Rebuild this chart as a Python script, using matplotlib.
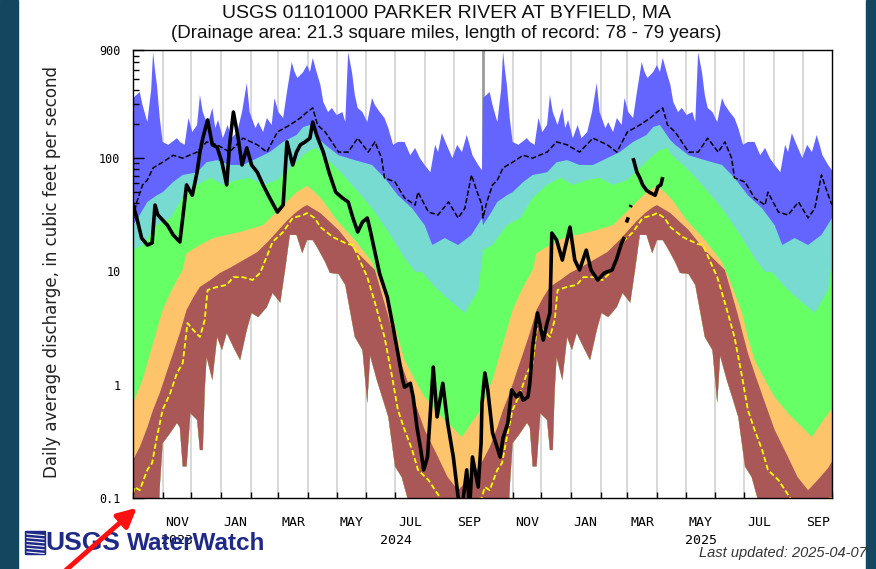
import numpy as np
import pandas as pd
import matplotlib
matplotlib.use("Agg")
import matplotlib.pyplot as plt
from matplotlib.patches import Rectangle, FancyArrowPatch
from matplotlib.lines import Line2D
from matplotlib.ticker import LogLocator, NullFormatter
import matplotlib.transforms as mtransforms

# ---------------- data ----------------
START = pd.Timestamp("2023-10-01")
END = pd.Timestamp("2025-10-01")

# daily statistics by day of water year (0 = Oct 1); repeated for both years
max_day = [0, 7, 10, 15, 19, 21, 23, 25, 28, 31, 37, 46, 49, 54, 58, 62, 67, 70, 73, 78,
           83, 86, 89, 94, 99, 103, 109, 114, 119, 122, 128, 131, 136, 140, 145, 148, 152, 157, 161, 166,
           169, 172, 178, 182, 185, 188, 192, 196, 199, 204, 208, 213, 219, 222, 225, 229, 232, 235, 240, 245,
           250, 253, 258, 263, 267, 272, 277, 284, 290, 295, 300, 305, 311, 316, 319, 323, 328, 334, 339, 344,
           349, 352, 355, 361, 365]
max_cfs = [339, 383, 294, 208, 400, 863, 600, 442, 226, 139, 131, 150, 139, 131, 226, 170, 196, 360, 255, 196,
           277, 184, 217, 150, 196, 150, 170, 255, 460, 255, 184, 208, 170, 226, 196, 339, 255, 226, 383, 705,
           575, 510, 575, 663, 575, 766, 575, 442, 313, 255, 277, 240, 255, 208, 863, 575, 360, 277, 255, 208,
           339, 294, 255, 226, 184, 131, 139, 139, 106, 123, 100, 87, 75, 131, 113, 166, 131, 100, 131, 113,
           160, 131, 106, 87, 78]

p90_day = [0, 7, 15, 25, 31, 42, 52, 67, 77, 88, 101, 115, 130, 143, 157, 171, 178, 185, 196, 201,
           215, 232, 250, 263, 277, 292, 305, 313, 326, 340, 354, 365]
p90_cfs = [25.6, 31.5, 41, 47, 50, 61.5, 71, 75, 92, 96, 87, 87, 100, 113, 139, 160, 188, 196, 144, 131,
           106, 96, 87, 67, 47, 36, 25.6, 17.1, 19.7, 17.1, 21, 29.6]

p75_day = [0, 10, 25, 39, 52, 67, 81, 94, 109, 122, 136, 151, 164, 178, 185, 193, 196, 215, 232, 250,
           267, 284, 295, 302, 319, 334, 347, 361, 365]
p75_cfs = [15.5, 17.1, 25.6, 29.6, 44.5, 58, 67, 58, 64, 67, 58, 64, 82, 106, 118, 123, 110, 78.5, 54.5, 36,
           22.3, 13.1, 9.9, 9.9, 6.85, 5.3, 4.3, 6.85, 12.6]

p25_day = [0, 10, 18, 25, 31, 39, 46, 52, 56, 70, 84, 112, 136, 154, 171, 182, 188, 198, 213, 232,
           250, 258, 271, 277, 284, 295, 305, 319, 334, 344, 354, 365]
p25_cfs = [0.69, 1.1, 1.9, 3.04, 4.56, 6.45, 8.4, 10.3, 14.5, 17.1, 19.7, 22.3, 25.6, 36, 50, 57, 52, 42.7, 28.4, 18.9,
           12.1, 8.4, 4.3, 2.64, 1.65, 1.1, 0.78, 0.56, 0.42, 0.345, 0.46, 0.62]

p10_day = [0, 7, 15, 21, 28, 36, 42, 49, 56, 63, 70, 81, 91, 101, 130, 143, 161, 170, 178, 182, 196,
           215, 232, 253, 266, 277, 284, 295, 305, 319, 329, 340, 350, 361, 365]
p10_cfs = [0.216, 0.28, 0.42, 0.60, 0.845, 1.35, 1.9, 2.86, 4.56, 5.9, 7.3, 8.4, 9.7, 10.7, 14.8, 19, 28, 33, 37, 38.5, 32.7,
           23.2, 15.4, 10.3, 4.3, 1.9, 1.27, 0.69, 0.40, 0.23, 0.153, 0.117, 0.144, 0.184, 0.21]

min_day = [0, 26, 28, 31, 39, 46, 49, 52, 56, 60, 67, 70, 73, 75, 77, 83, 88, 93, 98, 105,
           112, 119, 124, 131, 140, 146, 154, 159, 164, 171, 177, 182, 188, 193, 201, 206, 215, 222, 232, 240,
           245, 248, 255, 267, 274, 281, 287, 300, 365]
min_cfs = [0.05, 0.05, 0.125, 0.305, 0.375, 0.46, 0.42, 0.19, 0.19, 0.56, 0.49, 0.265, 0.265, 0.90, 1.75, 1.1, 2.64, 2.02, 2.86, 2.15,
           1.65, 3.04, 4.3, 3.95, 4.85, 6.45, 5.3, 10.3, 21, 21, 14.5, 18.9, 18.9, 16.1, 12.1, 9.7, 9.5, 7.6, 2.64, 2.02,
           0.69, 1.8, 1.1, 0.52, 0.19, 0.153, 0.1, 0.05, 0.05]

mean_day = [0, 4, 10, 15, 21, 31, 42, 52, 67, 77, 88, 101, 115, 130, 140, 151, 164, 175, 182, 188,
            193, 201, 208, 215, 225, 235, 246, 253, 260, 263, 274, 284, 295, 298, 309, 319, 330, 340, 347, 354,
            360, 365]
mean_cfs = [29.6, 41, 58, 64, 82, 92, 106, 100, 113, 139, 131, 113, 150, 131, 113, 170, 196, 226, 255, 277,
            196, 170, 139, 113, 113, 150, 113, 139, 100, 67, 61.5, 44.5, 38.5, 50, 33.4, 31.5, 41, 29.6, 36, 71,
            50, 38.5]

yel_day = [0, 2, 7, 15, 20, 25, 31, 39, 46, 52, 57, 63, 70, 75, 78, 88, 98, 105, 115, 125,
           133, 146, 157, 167, 178, 182, 190, 196, 209, 224, 230, 237, 245, 253, 263, 271, 277, 284, 292, 298,
           309, 316, 325, 345, 365]
yel_cfs = [0.11, 0.125, 0.117, 0.177, 0.204, 0.345, 0.60, 0.845, 1.27, 1.55, 3.5, 3.04, 2.64, 3.72, 6.85, 7.3, 7.6, 8.9, 8.9, 8.4,
           9.7, 18.2, 22.3, 29.6, 31.5, 32.7, 29.6, 24.6, 20.1, 17.5, 17.1, 12.6, 8.9, 5.3, 2.64, 1.17, 0.60, 0.40, 0.265, 0.177,
           0.144, 0.117, 0.09, 0.09, 0.1]

# observed daily discharge, days since 2023-10-01
nan = np.nan
obs_day = [0, 4, 9, 15, 20, 23, 26, 36, 42, 49, 52, 56, 62, 67, 70, 73, 78, 83, 88, 93,
           98, 101, 105, 110, 114, 119, 124, 130, 136, 143, 151, 157, 161, 167, 171, 175, 180, 185, 188, 192,
           199, 205, 212, 219, 225, 230, 235, 240, 245, 248, 253, 258, 266, 272, 277, 282, 284, 290, 293, 297,
           301, 304, 308, 314, 318, 324, 329, 335, 340, 344, 349, 352, 355, 361, 364, 365, 368, 371, 376, 384,
           387, 392, 396, 401, 405, 408, 413, 415, 418, 423, 429, 433, 436, 438, 443, 449, 457, 462, 467, 474,
           479, 486, 493, 501, 506, 511, 514, 515, 516, 518, 519, 520, 521, 522, 523, 527, 530, 533, 537, 540,
           546, 549, 552, 554]
obs_cfs = [38.5, 29.6, 19.7, 17.1, 17.8, 38.5, 31.5, 25.6, 21, 18.2, 29.6, 58, 47, 75, 113, 150, 217, 131, 125, 92,
           58, 131, 255, 150, 87, 123, 87, 75, 58, 44.5, 33.4, 38.5, 139, 87, 113, 131, 139, 150, 208, 160,
           113, 75, 50, 44.5, 41, 29.6, 22.3, 27.3, 29.6, 23.2, 14.8, 9.5, 5.9, 3.23, 1.9, 1.1, 0.95, 1.03, 0.78, 0.42,
           0.265, 0.177, 0.23, 1.43, 0.52, 1.03, 0.46, 0.23, 0.102, 0.08, 0.177, 0.08, 0.23, 0.125, 0.305, 0.69, 1.27, 0.90, 0.375, 0.23,
           0.34, 0.46, 0.90, 0.78, 0.85, 0.73, 0.78, 1.03, 2.2, 4.3, 2.48, 3.5, 4.3, 21.8, 18.9, 12.6, 24.6, 12.6, 10.3, 15.4,
           10.3, 8.4, 9.7, 10.3, 13.1, 17.8, 20.1, nan, 27, 30, nan, 37, 38.5, nan, 100, 75, 67, 58, 52, 50,
           47, 56, 58, 68]

y_ticks = [0.1, 1, 10, 100, 900]
y_ticklabels = ["0.1", "1", "10", "100", "900"]
month_labels = ["NOV", "JAN", "MAR", "MAY", "JUL", "SEP", "NOV", "JAN", "MAR", "MAY", "JUL", "SEP"]
label_months = ["2023-11", "2024-01", "2024-03", "2024-05", "2024-07", "2024-09",
                "2024-11", "2025-01", "2025-03", "2025-05", "2025-07", "2025-09"]
years = ["2023", "2024", "2025"]

title1 = "USGS 01101000 PARKER RIVER AT BYFIELD, MA"
title2 = "(Drainage area: 21.3 square miles, length of record: 78 - 79 years)"
ylabel = "Daily average discharge, in cubic feet per second"

# ---------------- figure ----------------
W, H = 876, 569
fig = plt.figure(figsize=(W / 100, H / 100), dpi=100)
fig.patch.set_facecolor("white")
strip = "#15465f"
fig.add_artist(Rectangle((0, 0), 18 / W, 1, transform=fig.transFigure, color=strip, zorder=0))
fig.add_artist(Rectangle((866 / W, 0), 10 / W, 1, transform=fig.transFigure, color=strip, zorder=0))

ax = fig.add_axes([133 / W, 1 - 498 / H, (832 - 133) / W, (498 - 50) / H])
ax.set_facecolor("white")

ndays = (END - START).days
wy2 = (pd.Timestamp("2024-10-01") - START).days


def two_years(day, val):
    d = np.asarray(day, float)
    v = np.asarray(val, float)
    return np.r_[d, d + wy2], np.r_[v, v]


mnx, mny = two_years(min_day, min_cfs)
bands = [(max_day, max_cfs, "#6464ff"),
         (p90_day, p90_cfs, "#78dbd2"),
         (p75_day, p75_cfs, "#66ff66"),
         (p25_day, p25_cfs, "#fdc46c"),
         (p10_day, p10_cfs, "#aa5757")]
for i, (d, v, c) in enumerate(bands):
    x, y = two_years(d, v)
    ax.fill(np.r_[x, mnx[::-1]], np.r_[y, mny[::-1]], color=c, lw=0, zorder=1 + i)

# month grid lines
months = pd.date_range("2023-11-01", "2025-09-01", freq="MS")
for m in months:
    dd = (m - START).days
    if dd == wy2:
        ax.axvline(dd, color="#9c9c9c", lw=2.0, zorder=0.6)
    else:
        ax.axvline(dd, color="#d6d6d6", lw=1.3, zorder=0.5)

yx, yy = two_years(yel_day, yel_cfs)
ax.plot(yx, yy, color="#ffff00", lw=1.3, ls=(0, (3, 1.5)), zorder=7)
mx, my = two_years(mean_day, mean_cfs)
ax.plot(mx, my, color="black", lw=1.1, ls=(0, (3.5, 1.5)), zorder=8)
ax.plot(obs_day, obs_cfs, color="black", lw=2.6, zorder=9, solid_joinstyle="round", solid_capstyle="butt")

ax.set_yscale("log")
ax.set_ylim(0.1, 900)
ax.set_xlim(0, ndays)

ax.set_yticks(y_ticks)
ax.set_yticklabels(y_ticklabels, fontfamily="DejaVu Sans Mono", fontsize=8.5)
ax.yaxis.set_minor_locator(LogLocator(base=10, subs=np.arange(2, 10)))
ax.yaxis.set_minor_formatter(NullFormatter())
ax.tick_params(axis="y", which="major", direction="in", length=8, width=1, pad=9, colors="black")
ax.tick_params(axis="y", which="minor", direction="in", length=4.5, width=1)
ax.tick_params(right=False, top=False, which="both")

month_days = [(pd.Timestamp(m) - START).days for m in pd.date_range("2023-10-01", "2025-10-01", freq="MS")]
ax.set_xticks(month_days)
ax.set_xticklabels([])
mid_days = []
for s in label_months:
    t = pd.Timestamp(s + "-01")
    mid_days.append((t - START).days + t.days_in_month / 2)
ax.set_xticks(mid_days, minor=True)
ax.set_xticklabels(month_labels, minor=True, fontfamily="DejaVu Sans Mono", fontsize=9.5)
ax.tick_params(axis="x", which="major", direction="in", length=4, width=1)
ax.tick_params(axis="x", which="minor", length=0, pad=13)

for sp in ax.spines.values():
    sp.set_linewidth(1.0)
    sp.set_color("black")
    sp.set_zorder(12)

# year labels centred on displayed portion of each calendar year
trans = mtransforms.blended_transform_factory(ax.transData, fig.transFigure)
for yr in years:
    a = max(pd.Timestamp(yr + "-01-01"), START)
    b = min(pd.Timestamp(str(int(yr) + 1) + "-01-01"), END)
    c = ((a - START).days + (b - START).days) / 2
    fig.text(c, 1 - 541 / H, yr, transform=trans, ha="center", va="center",
             fontfamily="DejaVu Sans Mono", fontsize=9.5, zorder=3)

sans = ["Liberation Sans", "DejaVu Sans"]
fig.text(446 / W, 1 - 13 / H, title1, ha="center", va="center", fontsize=14, family=sans, color="#111111")
fig.text(446 / W, 1 - 33 / H, title2, ha="center", va="center", fontsize=13.5, family=sans, color="#111111")
fig.text(52 / W, 1 - 272 / H, ylabel, rotation=90, ha="center", va="center", fontsize=12,
         family="DejaVu Sans", color="#222222")
fig.text(867 / W, 1 - 553 / H, "Last updated: 2025-04-07", ha="right", va="center", fontsize=10.5,
         style="italic", family=sans, color="#333333", zorder=5)

# USGS WaterWatch logo
logo_c = "#1f2a87"
fig.add_artist(Rectangle((25 / W, 1 - 554 / H), 20 / W, 23 / H, transform=fig.transFigure,
                         color=logo_c, zorder=5))
for k in range(6):
    yy0 = 1 - (534 + k * 3.6) / H
    fig.add_artist(Line2D([27 / W, 44 / W], [yy0, yy0 - 1.5 / H], transform=fig.transFigure,
                          color="white", lw=0.8, zorder=6))
fig.text(45 / W, 1 - 543 / H, "USGS", ha="left", va="center", fontsize=19, fontweight="bold",
         family=sans, color=logo_c, zorder=7)
fig.text(127 / W, 1 - 543 / H, "WaterWatch", ha="left", va="center", fontsize=17.5, fontweight="bold",
         family=sans, color=logo_c, zorder=7)

# red arrow
arr = FancyArrowPatch(posA=(64 / W, -0.005), posB=(139 / W, 1 - 506 / H), transform=fig.transFigure,
                      arrowstyle="-|>", mutation_scale=28, color="#ff1010", lw=3.5, zorder=20)
fig.add_artist(arr)

fig.savefig("out.png", dpi=100, facecolor="white")
